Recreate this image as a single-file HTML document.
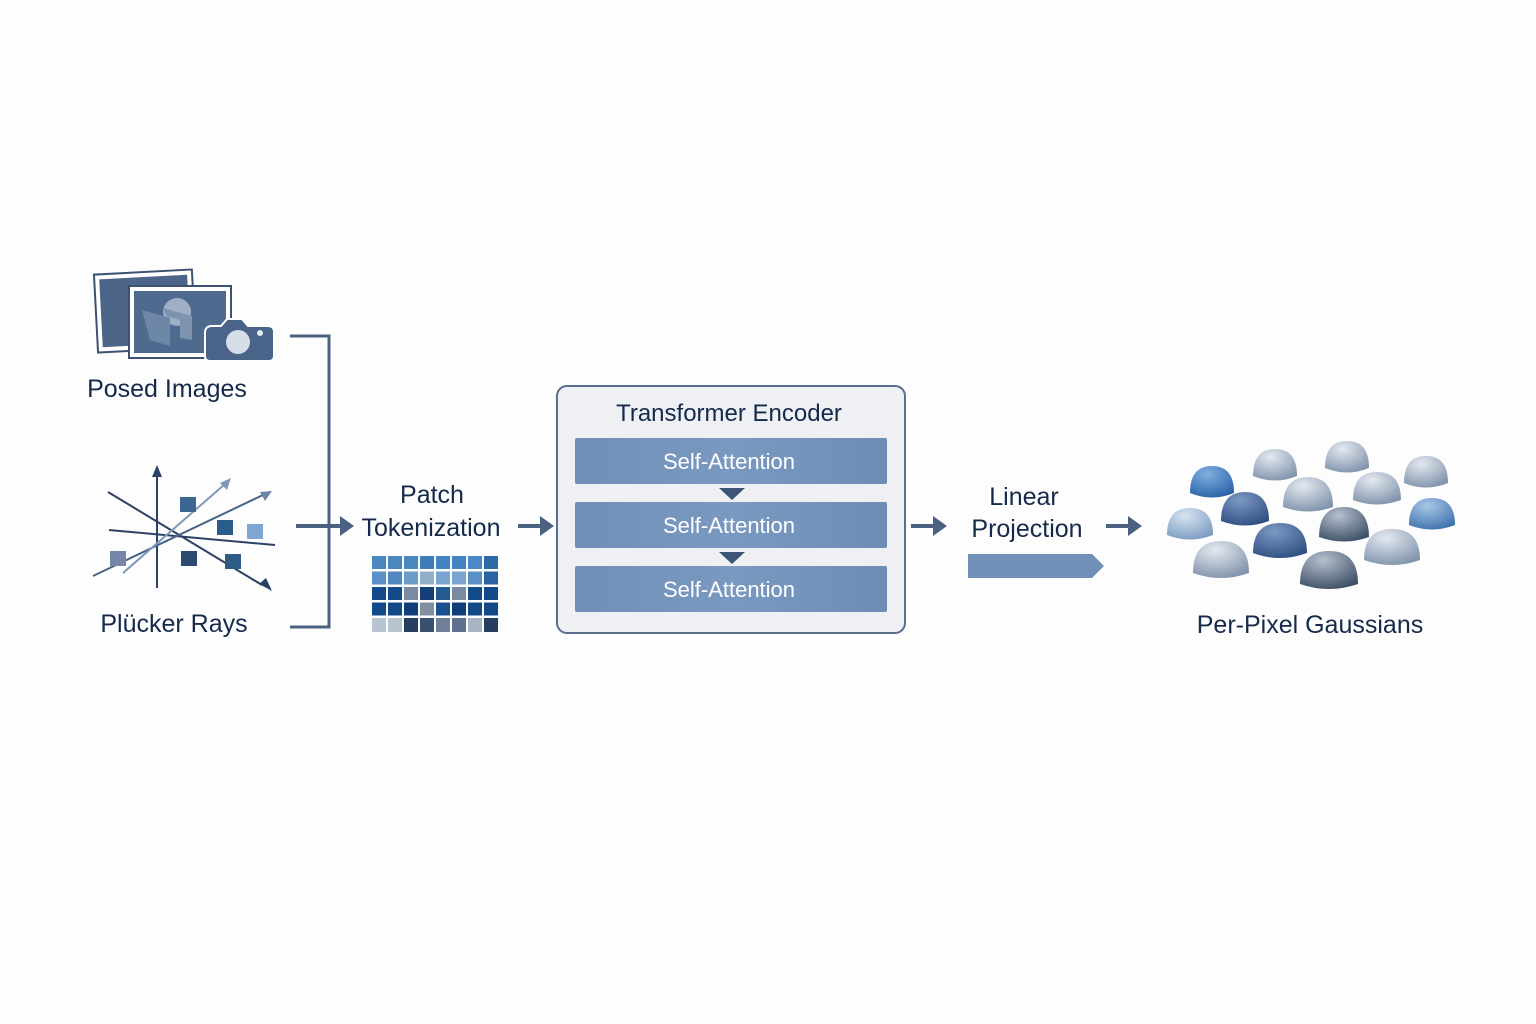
<!DOCTYPE html>
<html><head><meta charset="utf-8"><style>
body{margin:0;background:#fdfdfd;}
svg{display:block}
text{font-family:"Liberation Sans",sans-serif;}
</style></head><body>
<svg width="1536" height="1024" viewBox="0 0 1536 1024" xmlns="http://www.w3.org/2000/svg">
<defs>
<linearGradient id="bar" x1="0" y1="0" x2="1" y2="0"><stop offset="0" stop-color="#6f8fb8"/><stop offset="0.5" stop-color="#7a99c0"/><stop offset="1" stop-color="#6d8db6"/></linearGradient>
<radialGradient id="gDB" cx="0.4" cy="0.25" r="0.8"><stop offset="0" stop-color="#7fb0e0"/><stop offset="1" stop-color="#2a62a8"/></radialGradient>
<radialGradient id="gG" cx="0.4" cy="0.25" r="0.8"><stop offset="0" stop-color="#e4e9f0"/><stop offset="1" stop-color="#7f93ab"/></radialGradient>
<radialGradient id="gD" cx="0.4" cy="0.25" r="0.8"><stop offset="0" stop-color="#7d99c4"/><stop offset="1" stop-color="#2e4f80"/></radialGradient>
<radialGradient id="gDG" cx="0.4" cy="0.25" r="0.8"><stop offset="0" stop-color="#b5c0ce"/><stop offset="1" stop-color="#3e4f66"/></radialGradient>
<radialGradient id="gLB" cx="0.4" cy="0.25" r="0.8"><stop offset="0" stop-color="#d7e4f2"/><stop offset="1" stop-color="#7b9bc0"/></radialGradient>
<radialGradient id="gB" cx="0.4" cy="0.25" r="0.8"><stop offset="0" stop-color="#a9c7e8"/><stop offset="1" stop-color="#3f72ad"/></radialGradient>
</defs>

<!-- Posed images icon -->
<g transform="rotate(-3 145 312)">
<rect x="96" y="272" width="98" height="78" fill="#fff" stroke="#3b5273" stroke-width="2"/>
<rect x="101" y="277" width="88" height="68" fill="#4b6488"/>
</g>
<rect x="129" y="286" width="102" height="72" fill="#fff" stroke="#3b5273" stroke-width="2"/>
<rect x="134" y="291" width="92" height="62" fill="#4f6a8f"/>
<circle cx="177" cy="312" r="14" fill="#9fb0c6"/>
<path d="M142 310 L170 318 L170 346 L150 340 Z" fill="#6f87a6"/>
<path d="M163 308 L192 316 L192 340 L180 338 L180 320 L166 316 Z" fill="#7d93b0"/>
<path d="M205 333 Q205 326 212 326 L221 326 L227 319 L242 319 L248 326 L268 326 Q274 326 274 332 L274 356 Q274 361 269 361 L210 361 Q205 361 205 356 Z" fill="#4a6388" stroke="#fff" stroke-width="2"/>
<circle cx="238" cy="342" r="12" fill="#d6dee8"/>
<circle cx="260" cy="333" r="3" fill="#e6ebf2"/>
<text x="167" y="397" font-size="25" fill="#15294a" text-anchor="middle">Posed Images</text>

<!-- Plucker rays -->
<g stroke="#2c4264" stroke-width="2" fill="none">
<line x1="157" y1="588" x2="157" y2="472"/>
<line x1="108" y1="492" x2="262" y2="585"/>
<line x1="109" y1="530" x2="275" y2="545"/>
<line x1="93" y1="576" x2="265" y2="494" stroke="#4a6488"/>
<line x1="123" y1="573" x2="225" y2="484" stroke="#8098b8"/>
</g>
<polygon points="157,465 152,477 162,477" fill="#2c4264"/>
<polygon points="272,491 260,492 265,501" fill="#6b86a8"/>
<polygon points="231,478 220,483 227,490" fill="#8098b8"/>
<polygon points="272,591 259,584 266,578" fill="#2c4264"/>
<rect x="180" y="497" width="16" height="15" fill="#3c6592"/>
<rect x="217" y="520" width="16" height="15" fill="#2a5c8c"/>
<rect x="247" y="524" width="16" height="15" fill="#7ea6d4"/>
<rect x="110" y="551" width="16" height="15" fill="#7586a8"/>
<rect x="181" y="551" width="16" height="15" fill="#2c4a70"/>
<rect x="225" y="554" width="16" height="15" fill="#2e5a86"/>
<text x="174" y="632" font-size="25" fill="#15294a" text-anchor="middle">Plücker Rays</text>

<!-- bracket -->
<polyline points="290,336 329,336 329,627 290,627" fill="none" stroke="#4b6182" stroke-width="3"/>
<line x1="296" y1="526" x2="342" y2="526" stroke="#4b6182" stroke-width="4"/>
<polygon points="354,526 340,516 340,536" fill="#4b6182"/>

<text x="432" y="503" font-size="25" fill="#15294a" text-anchor="middle">Patch</text>
<text x="431" y="536" font-size="25" fill="#15294a" text-anchor="middle">Tokenization</text>

<g>
<rect x="372" y="556" width="14" height="13" fill="#4a86c0"/><rect x="388" y="556" width="14" height="13" fill="#4a86c0"/><rect x="404" y="556" width="14" height="13" fill="#4a86c0"/><rect x="420" y="556" width="14" height="13" fill="#3f7cba"/><rect x="436" y="556" width="14" height="13" fill="#4484c2"/><rect x="452" y="556" width="14" height="13" fill="#4484c2"/><rect x="468" y="556" width="14" height="13" fill="#4a88c8"/><rect x="484" y="556" width="14" height="13" fill="#2f6aa8"/>
<rect x="372" y="571.5" width="14" height="13" fill="#5a90c8"/><rect x="388" y="571.5" width="14" height="13" fill="#4f88c0"/><rect x="404" y="571.5" width="14" height="13" fill="#6b9bc8"/><rect x="420" y="571.5" width="14" height="13" fill="#93aec8"/><rect x="436" y="571.5" width="14" height="13" fill="#7aa5d0"/><rect x="452" y="571.5" width="14" height="13" fill="#7aa5d0"/><rect x="468" y="571.5" width="14" height="13" fill="#5a90c8"/><rect x="484" y="571.5" width="14" height="13" fill="#2a64a0"/>
<rect x="372" y="587" width="14" height="13" fill="#124a8a"/><rect x="388" y="587" width="14" height="13" fill="#124a8a"/><rect x="404" y="587" width="14" height="13" fill="#7a8aa0"/><rect x="420" y="587" width="14" height="13" fill="#163f78"/><rect x="436" y="587" width="14" height="13" fill="#235a90"/><rect x="452" y="587" width="14" height="13" fill="#7a8aa0"/><rect x="468" y="587" width="14" height="13" fill="#124a8a"/><rect x="484" y="587" width="14" height="13" fill="#124a8a"/>
<rect x="372" y="602.5" width="14" height="13" fill="#124a8a"/><rect x="388" y="602.5" width="14" height="13" fill="#124a8a"/><rect x="404" y="602.5" width="14" height="13" fill="#0e3f7a"/><rect x="420" y="602.5" width="14" height="13" fill="#8090a0"/><rect x="436" y="602.5" width="14" height="13" fill="#1a5090"/><rect x="452" y="602.5" width="14" height="13" fill="#0e3f7a"/><rect x="468" y="602.5" width="14" height="13" fill="#124a8a"/><rect x="484" y="602.5" width="14" height="13" fill="#124a8a"/>
<rect x="372" y="618" width="14" height="14" fill="#b8c4d0"/><rect x="388" y="618" width="14" height="14" fill="#b8c4d0"/><rect x="404" y="618" width="14" height="14" fill="#283e60"/><rect x="420" y="618" width="14" height="14" fill="#3a5070"/><rect x="436" y="618" width="14" height="14" fill="#708098"/><rect x="452" y="618" width="14" height="14" fill="#607090"/><rect x="468" y="618" width="14" height="14" fill="#a8b4c4"/><rect x="484" y="618" width="14" height="14" fill="#283e60"/>
</g>

<line x1="518" y1="526" x2="542" y2="526" stroke="#4b6182" stroke-width="4"/>
<polygon points="554,526 540,516 540,536" fill="#4b6182"/>

<!-- Transformer encoder -->
<rect x="557" y="386" width="348" height="247" rx="10" fill="#eef0f3" stroke="#5a6f8e" stroke-width="2"/>
<text x="729" y="421" font-size="24" fill="#15294a" text-anchor="middle">Transformer Encoder</text>
<rect x="575" y="438" width="312" height="46" rx="2" fill="url(#bar)"/>
<rect x="575" y="502" width="312" height="46" rx="2" fill="url(#bar)"/>
<rect x="575" y="566" width="312" height="46" rx="2" fill="url(#bar)"/>
<text x="729" y="469" font-size="22" fill="#fff" text-anchor="middle">Self-Attention</text>
<text x="729" y="533" font-size="22" fill="#fff" text-anchor="middle">Self-Attention</text>
<text x="729" y="597" font-size="22" fill="#fff" text-anchor="middle">Self-Attention</text>
<polygon points="719,488 745,488 732,500" fill="#3f5578"/>
<polygon points="719,552 745,552 732,564" fill="#3f5578"/>

<line x1="911" y1="526" x2="935" y2="526" stroke="#4b6182" stroke-width="4"/>
<polygon points="947,526 933,516 933,536" fill="#4b6182"/>
<text x="1024" y="505" font-size="25" fill="#15294a" text-anchor="middle">Linear</text>
<text x="1027" y="537" font-size="25" fill="#15294a" text-anchor="middle">Projection</text>
<polygon points="968,554 1092,554 1104,566 1092,578 968,578" fill="#7090b8"/>
<line x1="1106" y1="526" x2="1130" y2="526" stroke="#4b6182" stroke-width="4"/>
<polygon points="1142,526 1128,516 1128,536" fill="#4b6182"/>

<!-- Gaussians -->
<g>
<path d="M1190 493 Q1190 466 1212 466 Q1234 466 1234 493 Q1212 502 1190 493Z" fill="url(#gDB)"/>
<path d="M1253 476 Q1253 449 1275 449 Q1297 449 1297 476 Q1275 485 1253 476Z" fill="url(#gG)"/>
<path d="M1325 468 Q1325 441 1347 441 Q1369 441 1369 468 Q1347 477 1325 468Z" fill="url(#gG)"/>
<path d="M1404 483 Q1404 456 1426 456 Q1448 456 1448 483 Q1426 492 1404 483Z" fill="url(#gG)"/>
<path d="M1221 521 Q1221 492 1245 492 Q1269 492 1269 521 Q1245 530 1221 521Z" fill="url(#gD)"/>
<path d="M1283 507 Q1283 477 1308 477 Q1333 477 1333 507 Q1308 516 1283 507Z" fill="url(#gG)"/>
<path d="M1353 500 Q1353 472 1377 472 Q1401 472 1401 500 Q1377 509 1353 500Z" fill="url(#gG)"/>
<path d="M1409 525 Q1409 498 1432 498 Q1455 498 1455 525 Q1432 534 1409 525Z" fill="url(#gB)"/>
<path d="M1167 535 Q1167 508 1190 508 Q1213 508 1213 535 Q1190 544 1167 535Z" fill="url(#gLB)"/>
<path d="M1253 553 Q1253 523 1280 523 Q1307 523 1307 553 Q1280 563 1253 553Z" fill="url(#gD)"/>
<path d="M1319 537 Q1319 507 1344 507 Q1369 507 1369 537 Q1344 546 1319 537Z" fill="url(#gDG)"/>
<path d="M1364 560 Q1364 529 1392 529 Q1420 529 1420 560 Q1392 570 1364 560Z" fill="url(#gG)"/>
<path d="M1193 573 Q1193 541 1221 541 Q1249 541 1249 573 Q1221 583 1193 573Z" fill="url(#gG)"/>
<path d="M1300 584 Q1300 551 1329 551 Q1358 551 1358 584 Q1329 594 1300 584Z" fill="url(#gDG)"/>
</g>
<text x="1310" y="633" font-size="25" fill="#15294a" text-anchor="middle">Per-Pixel Gaussians</text>
</svg>
</body></html>
